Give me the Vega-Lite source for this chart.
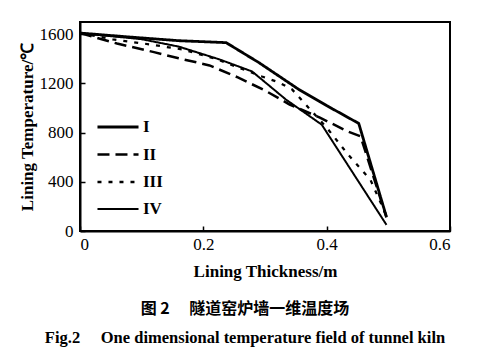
{
  "$schema": "https://vega.github.io/schema/vega-lite/v6.json",
  "width": 370,
  "height": 209,
  "autosize": "none",
  "padding": {"left": 80, "top": 22, "right": 45, "bottom": 126},
  "background": "white",
  "title": {
    "text": "图 2\u2003\u00a0隧道窑炉墙一维温度场",
    "subtitle": "Fig.2\u2003\u00a0One dimensional temperature field of tunnel kiln",
    "orient": "bottom",
    "anchor": "middle",
    "frame": "group",
    "dx": -20,
    "offset": 22,
    "font": "Noto Sans CJK SC",
    "fontSize": 16,
    "fontWeight": "bold",
    "color": "black",
    "subtitleFont": "Liberation Serif",
    "subtitleFontSize": 16.5,
    "subtitleFontWeight": "bold",
    "subtitleColor": "black",
    "subtitlePadding": 13
  },
  "config": {
    "view": {"stroke": "black", "strokeWidth": 2},
    "axis": {
      "domainColor": "black",
      "domainWidth": 2,
      "tickColor": "black",
      "tickWidth": 1.5,
      "tickSize": -5,
      "grid": false,
      "labelFont": "Liberation Serif",
      "labelFontSize": 17,
      "labelColor": "black",
      "titleFont": "Liberation Serif",
      "titleFontSize": 17,
      "titleFontWeight": "bold",
      "titleColor": "black"
    }
  },
  "data": {
    "values": [
      {"series": "I", "x": 0, "t": 1610},
      {"series": "I", "x": 0.08, "t": 1578},
      {"series": "I", "x": 0.16, "t": 1548},
      {"series": "I", "x": 0.237, "t": 1532},
      {"series": "I", "x": 0.29, "t": 1370},
      {"series": "I", "x": 0.355, "t": 1151},
      {"series": "I", "x": 0.40, "t": 1020},
      {"series": "I", "x": 0.452, "t": 875},
      {"series": "I", "x": 0.497, "t": 114},
      {"series": "II", "x": 0, "t": 1610},
      {"series": "II", "x": 0.06, "t": 1525},
      {"series": "II", "x": 0.12, "t": 1455},
      {"series": "II", "x": 0.16, "t": 1405},
      {"series": "II", "x": 0.21, "t": 1347},
      {"series": "II", "x": 0.256, "t": 1249},
      {"series": "II", "x": 0.30, "t": 1143},
      {"series": "II", "x": 0.34, "t": 1029},
      {"series": "II", "x": 0.389, "t": 922},
      {"series": "II", "x": 0.435, "t": 808},
      {"series": "II", "x": 0.455, "t": 770},
      {"series": "II", "x": 0.497, "t": 110},
      {"series": "III", "x": 0, "t": 1610},
      {"series": "III", "x": 0.053, "t": 1559},
      {"series": "III", "x": 0.113, "t": 1518},
      {"series": "III", "x": 0.166, "t": 1477},
      {"series": "III", "x": 0.22, "t": 1400},
      {"series": "III", "x": 0.295, "t": 1257},
      {"series": "III", "x": 0.323, "t": 1208},
      {"series": "III", "x": 0.344, "t": 1151},
      {"series": "III", "x": 0.363, "t": 1045},
      {"series": "III", "x": 0.40, "t": 841},
      {"series": "III", "x": 0.435, "t": 620},
      {"series": "III", "x": 0.471, "t": 416},
      {"series": "III", "x": 0.495, "t": 147},
      {"series": "IV", "x": 0, "t": 1610},
      {"series": "IV", "x": 0.1, "t": 1560},
      {"series": "IV", "x": 0.16, "t": 1500},
      {"series": "IV", "x": 0.226, "t": 1396},
      {"series": "IV", "x": 0.279, "t": 1298},
      {"series": "IV", "x": 0.334, "t": 1069},
      {"series": "IV", "x": 0.392, "t": 865},
      {"series": "IV", "x": 0.497, "t": 50}
    ]
  },
  "mark": {"type": "line", "color": "black", "strokeCap": "butt"},
  "encoding": {
    "x": {
      "field": "x", "type": "quantitative",
      "scale": {"domain": [0, 0.6], "nice": false},
      "axis": {"values": [0, 0.2, 0.4, 0.6], "title": "Lining Thickness/m", "labelPadding": 10, "titlePadding": 11, "labelExpr": "datum.value == 0 ? '0' : format(datum.value, '.1f')"}
    },
    "y": {
      "field": "t", "type": "quantitative",
      "scale": {"domain": [0, 1700], "nice": false},
      "axis": {"values": [0, 400, 800, 1200, 1600], "format": "d", "title": "Lining Temperature/℃", "labelPadding": 12, "titlePadding": 3}
    },
    "strokeDash": {
      "field": "series", "type": "nominal",
      "scale": {"domain": ["I", "II", "III", "IV"], "range": [[1, 0], [12, 6], [4, 7], [1, 0]]},
      "legend": {
        "orient": "none", "legendX": 23, "legendY": 90, "title": null,
        "symbolType": "M-1.52,0H1.52", "symbolSize": 729, "symbolStrokeColor": "black", "symbolFillColor": "transparent",
        "labelFont": "Liberation Serif", "labelFontSize": 17, "labelFontWeight": "bold", "labelColor": "black",
        "rowPadding": 4.5, "labelOffset": 10
      }
    },
    "strokeWidth": {
      "field": "series", "type": "nominal",
      "scale": {"domain": ["I", "II", "III", "IV"], "range": [2.8, 2, 3.2, 1]}
    }
  }
}
